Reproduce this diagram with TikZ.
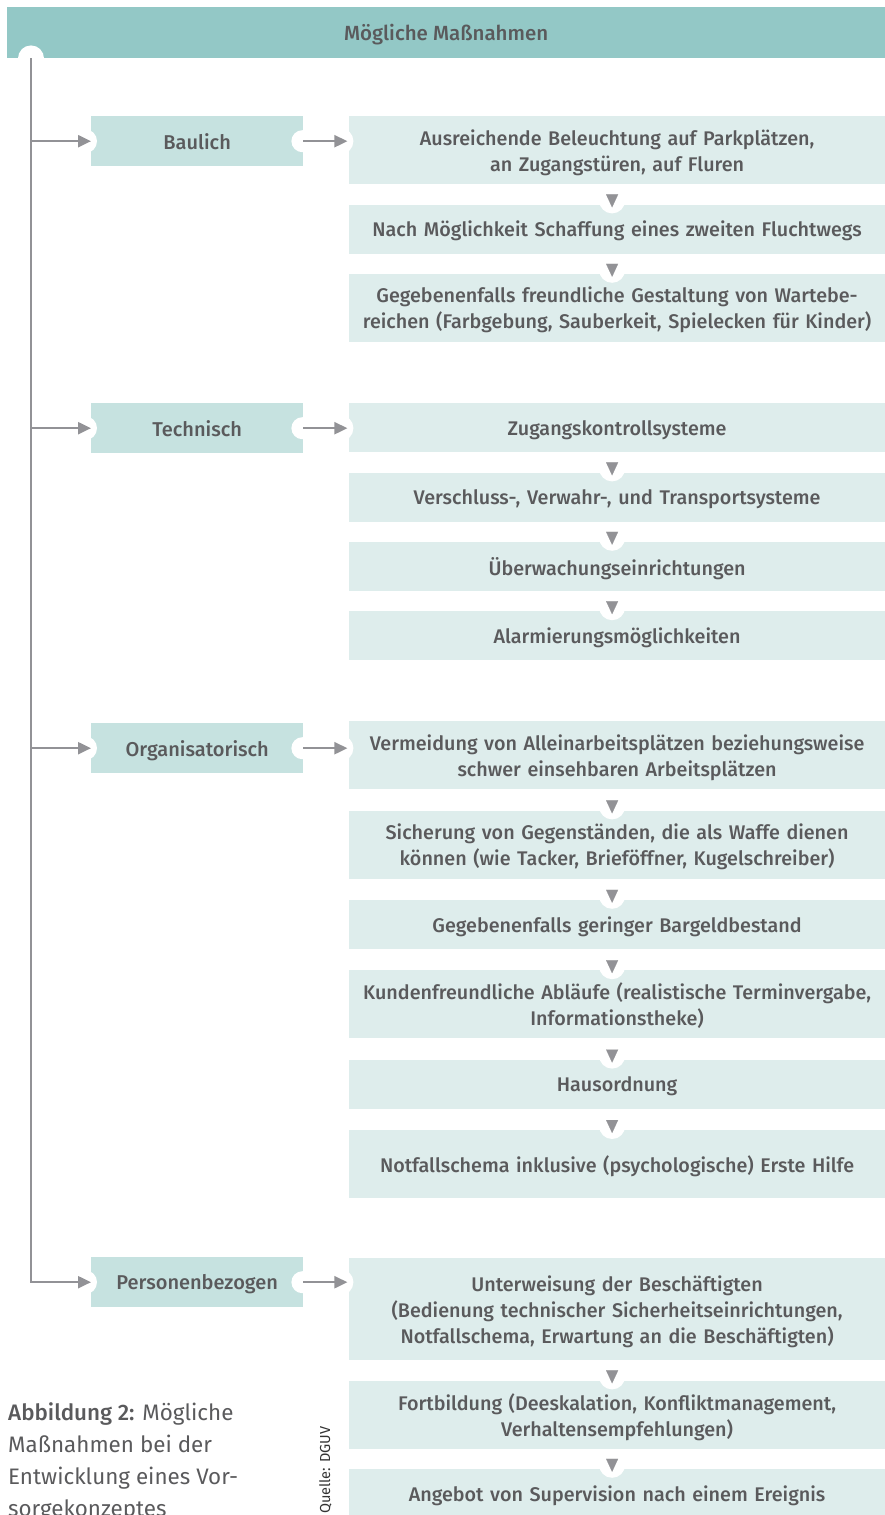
\documentclass[tikz,border=0pt]{standalone}
\usepackage{fontspec}
\setmainfont{Fira Sans}
\newfontfamily\medfont{Fira Sans Medium}
\usetikzlibrary{positioning, arrows.meta}

\definecolor{headteal}{HTML}{93C8C6}
\definecolor{catteal}{HTML}{C6E2E0}
\definecolor{itemteal}{HTML}{DEEDEC}
\definecolor{txtgray}{HTML}{5A5A5C}
\definecolor{arrgray}{HTML}{929296}

\tikzset{
    head/.style={fill=headteal, minimum width=878pt, minimum height=51pt, inner sep=0pt,
        text depth=0pt, text=txtgray, font=\medfont\fontsize{20.5pt}{26pt}\selectfont},
    cat/.style={fill=catteal, minimum width=212pt, minimum height=50pt, inner sep=0pt,
        text depth=0pt, text=txtgray, font=\medfont\fontsize{20pt}{26pt}\selectfont},
    item/.style={fill=itemteal, minimum width=537pt, minimum height=49pt, inner sep=0pt,
        text width=530pt, align=center, text depth=0pt, text=txtgray,
        font=\medfont\fontsize{19.75pt}{26pt}\selectfont},
    twolines/.style={minimum height=68pt, text depth=26pt},
    threelines/.style={minimum height=102pt, text depth=52pt},
    conn/.style={arrgray, line width=2.2pt, -{Triangle[length=13pt, width=12pt]}},
    down/.style={white, line width=0.1pt, -{Triangle[length=13pt, width=12pt, color=arrgray]}},
}

\begin{document}
\begin{tikzpicture}[x=1pt, y=-1pt, node distance=20pt]
    \useasboundingbox (0,0) rectangle (885,1515);
    \clip (0,0) rectangle (885,1515);

    \node [head, anchor=north west] (head) at (7,7) {Mögliche Maßnahmen};
    \coordinate (spine) at ([xshift=24pt]head.south west);

    % categories
    \node [cat, anchor=north west] (bau) at (91,116) {Baulich};
    \node [cat, anchor=north west] (tech) at (91,403) {Technisch};
    \node [cat, anchor=north west] (org) at (91,723) {Organisatorisch};
    \node [cat, anchor=north west] (pers) at (91,1257) {Personenbezogen};

    % Baulich
    \node [item, twolines, anchor=north west] (bau1) at ([xshift=45pt]bau.north east)
        {Ausreichende Beleuchtung auf Parkplätzen,\\ an Zugangstüren, auf Fluren};
    \node [item, below=of bau1] (bau2) {Nach Möglichkeit Schaffung eines zweiten Fluchtwegs};
    \node [item, twolines, below=of bau2] (bau3)
        {Gegebenenfalls freundliche Gestaltung von Wartebe-\\ reichen (Farbgebung, Sauberkeit, Spielecken für Kinder)};

    % Technisch
    \node [item, anchor=north west] (tech1) at ([xshift=45pt]tech.north east) {Zugangskontrollsysteme};
    \node [item, below=of tech1] (tech2) {Verschluss-, Verwahr-, und Transportsysteme};
    \node [item, below=of tech2] (tech3) {Überwachungseinrichtungen};
    \node [item, below=of tech3] (tech4) {Alarmierungsmöglichkeiten};

    % Organisatorisch
    \node [item, twolines, anchor=north west] (org1) at ([xshift=45pt, yshift=2pt]org.north east)
        {Vermeidung von Alleinarbeitsplätzen beziehungsweise\\ schwer einsehbaren Arbeitsplätzen};
    \node [item, twolines, below=21pt of org1] (org2)
        {Sicherung von Gegenständen, die als Waffe dienen\\ können (wie Tacker, Brieföffner, Kugelschreiber)};
    \node [item, below=21pt of org2] (org3) {Gegebenenfalls geringer Bargeldbestand};
    \node [item, twolines, below=21pt of org3] (org4)
        {Kundenfreundliche Abläufe (realistische Terminvergabe,\\ Informationstheke)};
    \node [item, below=21pt of org4] (org5) {Hausordnung};
    \node [item, minimum height=68pt, below=21pt of org5] (org6)
        {Notfallschema inklusive (psychologische) Erste Hilfe};

    % Personenbezogen
    \node [item, threelines, anchor=north west] (pers1) at ([xshift=45pt, yshift=-1pt]pers.north east)
        {Unterweisung der Beschäftigten\\ (Bedienung technischer Sicherheitseinrichtungen,\\ Notfallschema, Erwartung an die Beschäftigten)};
    \node [item, twolines, below=of pers1] (pers2)
        {Fortbildung (Deeskalation, Konfliktmanagement,\\ Verhaltensempfehlungen)};
    \node [item, below=of pers2] (pers3) {Angebot von Supervision nach einem Ereignis};

    % white notches
    \fill [white] (head.south -| spine) circle (13pt);
    \foreach \c/\i in {bau/bau1, tech/tech1, org/org1, pers/pers1} {
        \fill [white] ([xshift=-6pt]\c.west) circle (12pt);
        \fill [white] ([xshift=-1pt]\c.east) circle (11pt);
        \fill [white] ([xshift=-8pt]\i.west |- \c.east) circle (13pt);
    }

    % connectors
    \draw [conn] (spine) |- (pers.west);
    \foreach \c in {bau, tech, org}
        \draw [conn] (spine |- \c.west) -- (\c.west);
    \foreach \c/\i in {bau/bau1, tech/tech1, org/org1, pers/pers1}
        \draw [conn, shorten >=1pt] (\c.east) -- (\i.west |- \c.east);

    \foreach \a/\b in {bau1/bau2, bau2/bau3, tech1/tech2, tech2/tech3, tech3/tech4,
            org1/org2, org2/org3, org3/org4, org4/org5, org5/org6, pers1/pers2, pers2/pers3} {
        \fill [white] ([xshift=-5pt, yshift=4pt]\b.north) circle (13pt);
        \draw [down] ([xshift=-5pt]\a.south) -- ([xshift=-5pt, yshift=-3pt]\b.north);
    }

    % caption
    \node [anchor=base west, align=left, inner sep=0pt, text=txtgray,
        font=\fontsize{22.4pt}{32pt}\selectfont] (caption) at (8,1516)
        {{\medfont Abbildung 2:} Mögliche\\ Maßnahmen bei der\\ Entwicklung eines Vor-\\ sorgekonzeptes};
    \node [anchor=base west, rotate=90, inner sep=0pt, text=black!80,
        font=\fontsize{14.5pt}{17pt}\selectfont] (source) at (330,1514) {Quelle: DGUV};
\end{tikzpicture}
\end{document}
